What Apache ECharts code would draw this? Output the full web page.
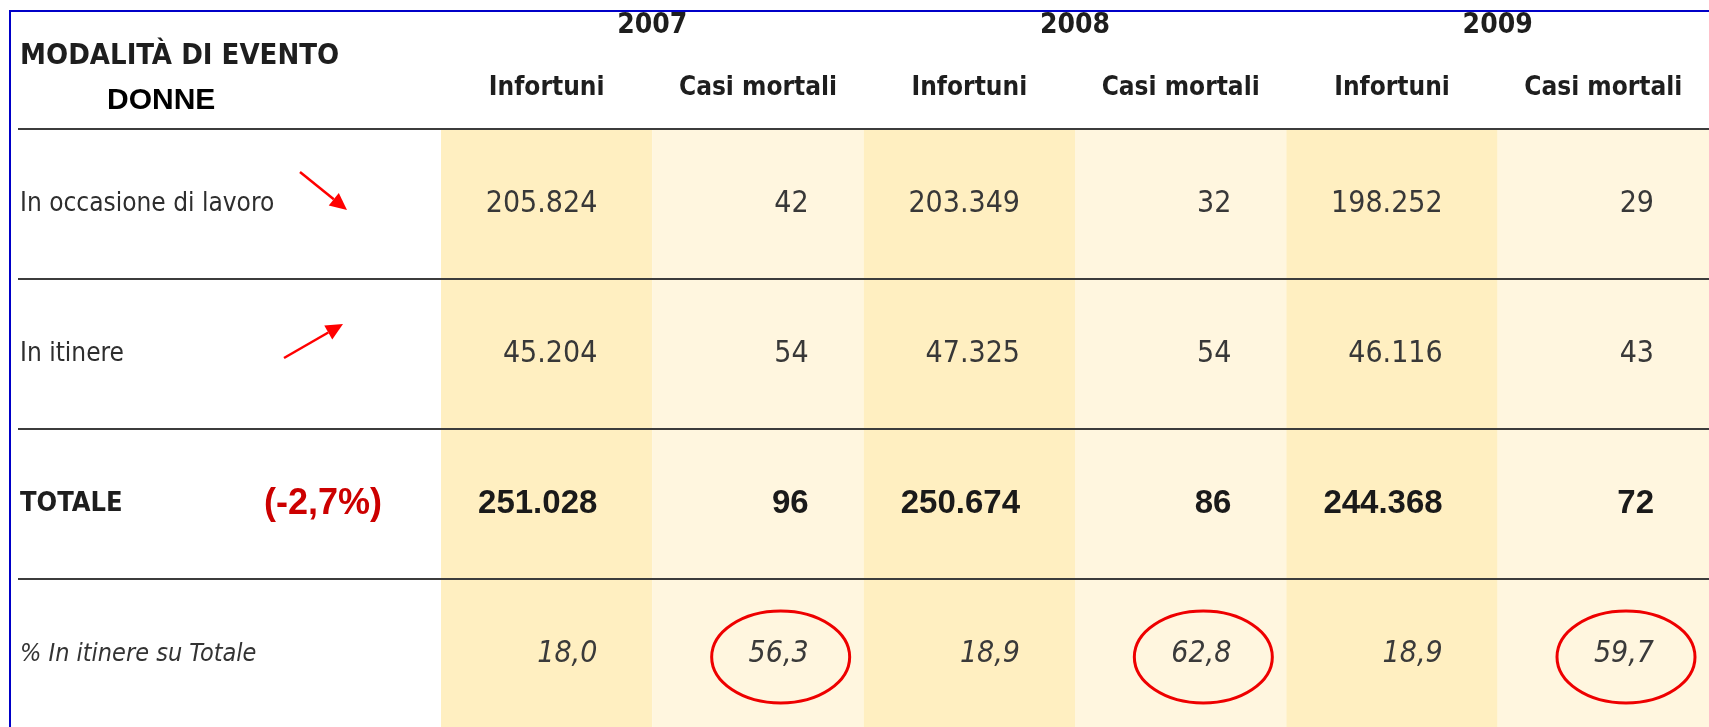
<!DOCTYPE html>
<html>
<head>
<meta charset="utf-8">
<script src="https://cdn.jsdelivr.net/npm/echarts@6/dist/echarts.min.js"></script>
<style>html,body{margin:0;padding:0;background:#fff;overflow:hidden}#c{width:1709px;height:727px}</style>
</head>
<body>
<div id="c"></div>
<script>
// ---- data ----
const years = ['2007', '2008', '2009'];
const measures = ['Infortuni', 'Casi mortali'];
const rowLabels = ['In occasione di lavoro', 'In itinere', 'TOTALE', '% In itinere su Totale'];
const infortuniLavoro = [205824, 203349, 198252];
const mortaliLavoro = [42, 32, 29];
const infortuniItinere = [45204, 47325, 46116];
const mortaliItinere = [54, 54, 43];
const infortuniTotale = [251028, 250674, 244368];
const mortaliTotale = [96, 86, 72];
const pctInfortuni = [18.0, 18.9, 18.9];
const pctMortali = [56.3, 62.8, 59.7];
const totaleVariazione = -2.7;
const headerTitle = 'MODALITÀ DI EVENTO';
const headerSub = 'DONNE';

// ---- helpers ----
const COND = "'DejaVu Sans Condensed', 'DejaVu Sans', sans-serif";
const SANS = "'Liberation Sans', Arial, sans-serif";
const fmtInt = n => String(n).replace(/\B(?=(\d{3})+(?!\d))/g, '.');
const fmtDec = n => n.toFixed(1).replace('.', ',');

const subHeaders = [];
years.forEach(() => measures.forEach(m => subHeaders.push(m)));

const rowsText = [
  [infortuniLavoro, mortaliLavoro, fmtInt, fmtInt],
  [infortuniItinere, mortaliItinere, fmtInt, fmtInt],
  [infortuniTotale, mortaliTotale, fmtInt, fmtInt],
  [pctInfortuni, pctMortali, fmtDec, fmtDec]
];
const cellData = [];
const cellText = [];
rowsText.forEach((r, ri) => {
  years.forEach((y, yi) => {
    cellData.push([yi * 2, ri]); cellText.push(r[2](r[0][yi]));
    cellData.push([yi * 2 + 1, ri]); cellText.push(r[3](r[1][yi]));
  });
});

const cellStyles = [
  {fontFamily: COND, fontSize: 30, fontWeight: 'normal', fontStyle: 'normal', fill: '#383838'},
  {fontFamily: COND, fontSize: 30, fontWeight: 'normal', fontStyle: 'normal', fill: '#383838'},
  {fontFamily: SANS, fontSize: 33, fontWeight: 'bold', fontStyle: 'normal', fill: '#1a1a1a'},
  {fontFamily: COND, fontSize: 30, fontWeight: 'normal', fontStyle: 'italic', fill: '#3a3a3a'}
];

function arrowEls(x1, y1, x2, y2) {
  const dx = x2 - x1, dy = y2 - y1, L = Math.hypot(dx, dy);
  const ux = dx / L, uy = dy / L, hl = 17, hw = 8;
  const bx = x2 - ux * hl, by = y2 - uy * hl;
  return [
    {type: 'line', shape: {x1: x1, y1: y1, x2: bx, y2: by}, style: {stroke: '#FF0000', lineWidth: 2.5}},
    {type: 'polygon', shape: {points: [[x2, y2], [bx - uy * hw, by + ux * hw], [bx + uy * hw, by - ux * hw]]}, style: {fill: '#FF0000'}}
  ];
}

const chart = echarts.init(document.getElementById('c'), null, {renderer: 'canvas'});
const option = {
  backgroundColor: '#ffffff',
  animation: false,
  title: [
    {text: headerTitle, left: 20, top: 42, padding: 0,
     textStyle: {fontFamily: COND, fontWeight: 'bold', fontSize: 29, color: '#1e1e1e'}},
    {text: headerSub, left: 107, top: 86, padding: 0,
     textStyle: {fontFamily: SANS, fontWeight: 'bold', fontSize: 30, color: '#000'}}
  ],
  grid: {left: 441, right: 0, top: 129, height: 600, containLabel: false, outerBoundsMode: 'none'},
  xAxis: [
    {type: 'category', position: 'top', data: subHeaders, z: 0,
     axisLine: {show: false}, axisTick: {show: false},
     axisLabel: {interval: 0, margin: 41, verticalAlign: 'middle', fontFamily: COND, fontWeight: 'bold', fontSize: 26, color: '#1e1e1e'},
     splitArea: {show: true, interval: 0, areaStyle: {color: ['#FFEFC1', '#FFF6DF']}},
     splitLine: {show: false}},
    {type: 'category', position: 'top', data: years, z: 0,
     axisLine: {show: false}, axisTick: {show: false},
     axisLabel: {interval: 0, margin: 103, verticalAlign: 'middle', fontFamily: COND, fontWeight: 'bold', fontSize: 28, color: '#1e1e1e'},
     splitArea: {show: false}, splitLine: {show: false}}
  ],
  yAxis: {
    type: 'category', inverse: true, data: rowLabels, z: 1,
    axisLine: {show: false},
    axisTick: {show: true, interval: 0, length: 423, lineStyle: {color: '#3c3c3c', width: 2}},
    splitLine: {show: true, interval: 0, showMaxLine: false, lineStyle: {color: '#3c3c3c', width: 2}},
    axisLabel: {
      interval: 0, margin: 421, align: 'left',
      formatter: (v, i) => {
        if (i === 2) return '{bold|' + v + '}{red|(' + fmtDec(totaleVariazione) + '%)}';
        if (i === 3) return '{ital|' + v + '}';
        return '{reg|' + v + '}';
      },
      rich: {
        reg: {fontFamily: COND, fontSize: 26, color: '#2e2e2e'},
        bold: {fontFamily: COND, fontWeight: 'bold', fontSize: 27, color: '#1e1e1e', width: 244},
        red: {fontFamily: SANS, fontWeight: 'bold', fontSize: 36, color: '#CC0000'},
        ital: {fontFamily: COND, fontStyle: 'italic', fontSize: 25, color: '#333'}
      }
    }
  },
  graphic: [
    {type: 'polyline', shape: {points: [[10, 727], [10, 11], [1709, 11]]}, style: {stroke: '#0000C8', lineWidth: 2, fill: null}},
    ...arrowEls(300, 172, 347, 210),
    ...arrowEls(284, 358, 343, 324)
  ],
  series: [{
    type: 'custom',
    coordinateSystem: 'cartesian2d',
    xAxisIndex: 0, yAxisIndex: 0,
    data: cellData,
    z: 5,
    renderItem: (params, api) => {
      const col = api.value(0), row = api.value(1);
      const c = api.coord([col, row]);
      const s = api.size([1, 1]);
      const right = c[0] + s[0] / 2 - 55;
      const st = cellStyles[row];
      const children = [{
        type: 'text',
        style: Object.assign({text: cellText[params.dataIndex], x: right, y: c[1], align: 'right', verticalAlign: 'middle'}, st)
      }];
      if (row === 3 && col % 2 === 1) {
        children.push({type: 'ellipse', shape: {cx: right - 28, cy: c[1] + 3, rx: 69, ry: 46},
          style: {fill: null, stroke: '#EE0000', lineWidth: 3}});
      }
      return {type: 'group', children: children};
    }
  }]
};
chart.setOption(option);
</script>
</body>
</html>
